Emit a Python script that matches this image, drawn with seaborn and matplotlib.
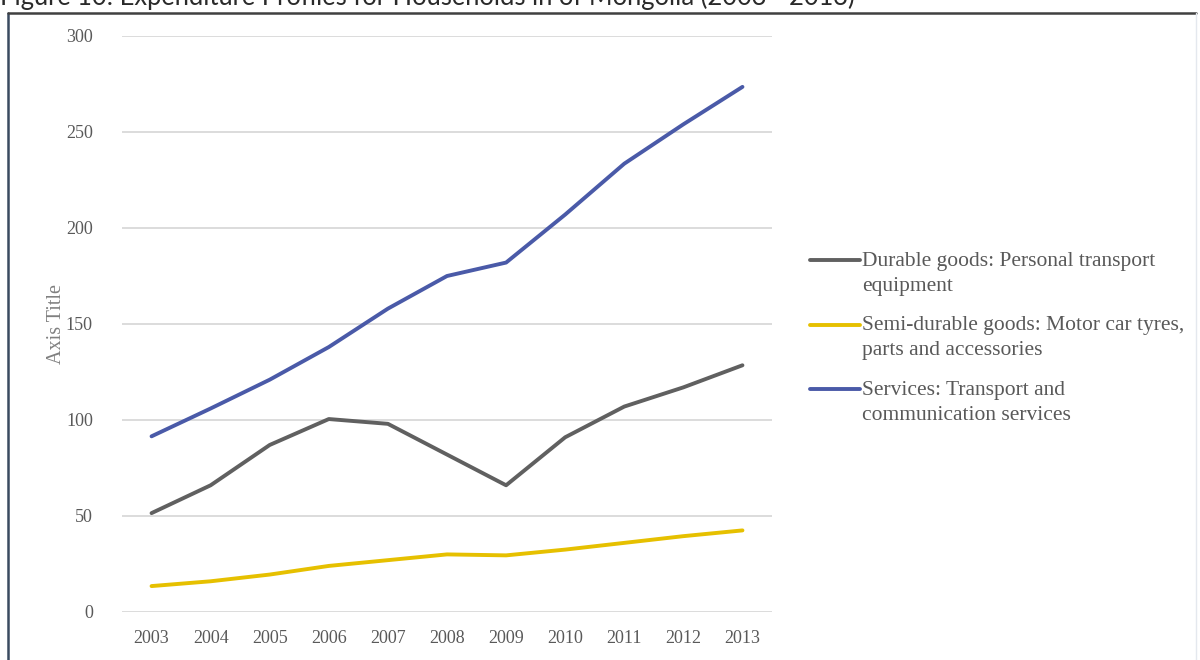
import matplotlib
matplotlib.use("Agg")
import matplotlib.pyplot as plt
import seaborn as sns
import pandas as pd
from matplotlib.lines import Line2D

# Household expenditure profiles, 2003-2013
years = [2003, 2004, 2005, 2006, 2007, 2008, 2009, 2010, 2011, 2012, 2013]
durable_goods = [51.5, 66, 87, 100.5, 98, 82, 66, 91, 107, 117, 128.5]
semi_durable_goods = [13.5, 16, 19.5, 24, 27, 30, 29.5, 32.5, 36, 39.5, 42.5]
services = [91.5, 106, 121, 138, 158, 175, 182, 207, 233.5, 254, 273.5]

series_names = [
    "Durable goods: Personal transport\nequipment",
    "Semi-durable goods: Motor car tyres,\nparts and accessories",
    "Services: Transport and\ncommunication services",
]
series_colors = ["#606060", "#E6C000", "#4A5AA8"]
y_ticks = [0, 50, 100, 150, 200, 250, 300]

df = pd.concat(
    [
        pd.DataFrame({"year": years, "value": vals, "series": name})
        for name, vals in zip(series_names, [durable_goods, semi_durable_goods, services])
    ],
    ignore_index=True,
)

sns.set_theme(style="white")
plt.rcParams["font.family"] = ["Liberation Serif", "DejaVu Serif"]

fig = plt.figure(figsize=(12, 6.6), dpi=100)
ax = fig.add_axes([122 / 1200, 1 - 612 / 660, 650 / 1200, 576 / 660])

sns.lineplot(
    data=df, x="year", y="value", hue="series", hue_order=series_names,
    palette=series_colors, linewidth=2.8, ax=ax, legend=False,
    solid_capstyle="round",
)

ax.set_xlim(2002.5, 2013.5)
ax.set_ylim(0, 300)
ax.set_yticks(y_ticks)
ax.set_xticks(years)
ax.set_xticklabels([str(y) for y in years])
ax.grid(axis="y", color="#D9D9D9", linewidth=1.3)
ax.set_axisbelow(True)
for s in ax.spines.values():
    s.set_visible(False)
ax.tick_params(axis="y", length=0, pad=21, labelsize=13, labelcolor="#595959")
ax.tick_params(axis="x", length=0, pad=13, labelsize=13, labelcolor="#595959")
ax.set_xlabel("")
ax.set_ylabel("Axis Title", fontsize=14.5, color="#808080", labelpad=0)

# Legend to the right of the plot
handles = [Line2D([0], [0], color=c, lw=2.8) for c in series_colors]
leg = fig.legend(
    handles, series_names, loc="upper left",
    bbox_to_anchor=(810 / 1200, 1 - 252 / 660),
    frameon=False, fontsize=15.5, handlelength=2.33, handletextpad=0.1,
    borderpad=0, borderaxespad=0, labelspacing=0.95,
)
for t in leg.get_texts():
    t.set_color("#595959")
    t.set_linespacing(1.42)
# align each handle with the first line of its two-line label
for ln in leg.get_lines():
    yd = ln.get_ydata()
    ln.set_ydata([v + 9.5 for v in yd])

# Figure caption along the top edge
fig.text(0.0, 1 - 5 / 660, "Figure 10: Expenditure Profiles for Households in of Mongolia (2003 - 2013)",
         fontsize=18.4, family=["Lato", "DejaVu Sans"], color="#2a2a2a", va="baseline", ha="left")

# Frame around the chart
fig.add_artist(Line2D([8 / 1200, 8 / 1200], [0, 1 - 13 / 660], transform=fig.transFigure,
                      color="#3A4A60", lw=1.8))
fig.add_artist(Line2D([8 / 1200, 1196 / 1200], [1 - 13 / 660, 1 - 13 / 660], transform=fig.transFigure,
                      color="#404040", lw=1.8))
fig.add_artist(Line2D([1196 / 1200, 1196 / 1200], [0, 1 - 13 / 660], transform=fig.transFigure,
                      color="#E4E8EE", lw=1.0))

fig.savefig("out.png", dpi=100)
